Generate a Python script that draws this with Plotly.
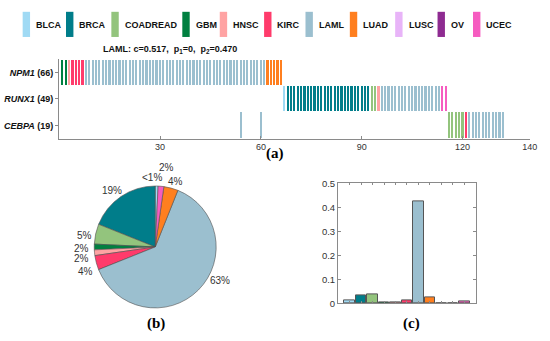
import math
import plotly.graph_objects as go

# ---------------- data ----------------
cancer_types = ["BLCA", "BRCA", "COADREAD", "GBM", "HNSC", "KIRC", "LAML", "LUAD", "LUSC", "OV", "UCEC"]
type_colors = ["#A0DAF4", "#007D8A", "#93C47D", "#008040", "#FFA3A3", "#FF3B6B",
               "#9BBFCF", "#FF7F1F", "#E8B4F8", "#8E2B91", "#F65CC0"]

genes = ["NPM1", "RUNX1", "CEBPA"]
gene_counts = [66, 49, 19]

# per-gene mutated samples: (first sample index, cancer type, number of consecutive samples)
npm1_runs = [(1, "GBM", 2), (3, "HNSC", 1), (4, "KIRC", 4), (8, "LAML", 54), (62, "LUAD", 5)]
runx1_runs = [(67, "BLCA", 1), (68, "BRCA", 25), (93, "COADREAD", 2), (95, "HNSC", 1),
              (96, "LAML", 18), (114, "UCEC", 2)]
cebpa_runs = [(54, "LAML", 1), (60, "LAML", 1), (116, "COADREAD", 5), (121, "KIRC", 1),
              (122, "LAML", 11)]

x_ticks = [30, 60, 90, 120, 140]

# pie: number of mutated samples per cancer type
pie_counts = [1, 25, 7, 2, 2, 5, 83, 5, 0, 0, 2]
pie_text = ["<1%", "19%", "5%", "2%", "2%", "4%", "63%", "4%", "", "", "2%"]

# bar chart (c): fraction per cancer type
frac_values = [0.012, 0.032, 0.036, 0.006, 0.006, 0.012, 0.426, 0.027, 0.0, 0.0, 0.008]

title_text = "<b>LAML: c=0.517,  p<sub>1</sub>=0,  p<sub>2</sub>=0.470</b>"

# ---------------- layout helpers ----------------
W, H = 550, 341
FONT = "Arial, Liberation Sans, sans-serif"
SERIF = "Times New Roman, Liberation Serif, serif"
AXC = "#8a8a8a"


def px(x):
    return x / W


def py(y):
    return 1 - y / H


color_of = dict(zip(cancer_types, type_colors))
fig = go.Figure()

# ---------- (a) oncoprint ----------
row_of = {"NPM1": 3, "RUNX1": 2, "CEBPA": 1}
all_runs = {"NPM1": npm1_runs, "RUNX1": runx1_runs, "CEBPA": cebpa_runs}
for ct in cancer_types:
    xs, bases = [], []
    for g in genes:
        for start, t, n in all_runs[g]:
            if t == ct:
                for k in range(n):
                    xs.append(start + k)
                    bases.append(row_of[g] - 0.48)
    if xs:
        fig.add_trace(go.Bar(x=xs, y=[0.96] * len(xs), base=bases, width=0.64,
                             marker=dict(color=color_of[ct], line=dict(width=0)),
                             xaxis="x", yaxis="y", showlegend=False, hoverinfo="skip"))

# ---------- (b) pie ----------
pie_idx = [i for i, v in enumerate(pie_counts) if v > 0]
fig.add_trace(go.Pie(values=[pie_counts[i] for i in pie_idx],
                     labels=[cancer_types[i] for i in pie_idx],
                     marker=dict(colors=[type_colors[i] for i in pie_idx],
                                 line=dict(color="#505050", width=0.6)),
                     sort=False, direction="counterclockwise", rotation=0,
                     textinfo="none", showlegend=False, hoverinfo="skip",
                     domain=dict(x=[px(94.5), px(220.5)], y=[py(312), py(186)])))

# pie labels computed from slice mid-angles
cx, cy, R = 157.5, 249.0, 63.0
label_nudge = {"UCEC": (8, -10), "LAML": (12, -14), "LUAD": (5, 3), "KIRC": (-2, 3),
               "GBM": (-2, -2), "HNSC": (-3, 2), "BLCA": (-2, 1)}
total = sum(pie_counts)
cum = 0
annotations = []
for i, v in enumerate(pie_counts):
    if v <= 0:
        continue
    mid = (cum + v / 2) / total * 2 * math.pi
    cum += v
    lx = cx - 1.15 * R * math.sin(mid)
    ly = cy - 1.15 * R * math.cos(mid)
    dx, dy = label_nudge.get(cancer_types[i], (0, 0))
    annotations.append(dict(x=px(lx + dx), y=py(ly + dy), xref="paper", yref="paper",
                            xanchor="center", yanchor="middle",
                            text=pie_text[i], showarrow=False,
                            font=dict(family=FONT, size=10, color="#333333")))

# ---------- (c) bar chart ----------
fig.add_trace(go.Bar(x=list(range(1, len(cancer_types) + 1)), y=frac_values, width=0.92,
                     marker=dict(color=type_colors, line=dict(color="#555555", width=1)),
                     xaxis="x2", yaxis="y2", showlegend=False, hoverinfo="skip"))

# ---------- legend (manual) ----------
legend_rect_x = [23, 67, 113, 185, 223, 268, 310, 355, 401, 444, 480]
shapes = []
for ct, col, x0 in zip(cancer_types, type_colors, legend_rect_x):
    shapes.append(dict(type="rect", xref="paper", yref="paper",
                       x0=px(x0), x1=px(x0 + 7.5), y0=py(32), y1=py(6),
                       fillcolor=col, line=dict(width=0)))
    annotations.append(dict(x=px(x0 + 11.5), y=py(19.5), xref="paper", yref="paper",
                            xanchor="left", yanchor="middle", text="<b>%s</b>" % ct,
                            showarrow=False,
                            font=dict(family=FONT, size=9, color="#111111")))

# titles / panel labels
annotations.append(dict(x=px(173), y=py(45), xref="paper", yref="paper", text=title_text,
                        xanchor="center", yanchor="middle",
                        showarrow=False, font=dict(family=FONT, size=9, color="#111111")))
for lab, (lx, ly) in zip(["(a)", "(b)", "(c)"], [(279, 152), (158, 328), (418, 328)]):
    annotations.append(dict(x=px(lx), y=py(ly), xref="paper", yref="paper",
                            xanchor="center", yanchor="middle",
                            text="<b>%s</b>" % lab, showarrow=False,
                            font=dict(family=SERIF, size=15, color="#000000")))

gene_ticktext = ["<b><i>%s</i> (%d)</b>" % (g, c) for g, c in zip(genes, gene_counts)]

fig.update_layout(
    width=W, height=H, margin=dict(l=0, r=0, t=0, b=0),
    paper_bgcolor="white", plot_bgcolor="white", barmode="overlay", bargap=0,
    font=dict(family=FONT, color="#333333"),
    xaxis=dict(domain=[px(60), px(537.7)], range=[0, 140], tickvals=x_ticks,
               ticks="inside", ticklen=3, tickcolor=AXC, showline=True, linecolor=AXC,
               linewidth=1, showgrid=False, zeroline=False, anchor="y",
               tickfont=dict(family=FONT, size=9, color="#333333")),
    yaxis=dict(domain=[py(137), py(55)], range=[0.5, 3.5], tickvals=[3, 2, 1],
               ticktext=gene_ticktext, ticks="outside", ticklen=3, tickcolor=AXC,
               showline=True, linecolor=AXC, linewidth=1, showgrid=False, zeroline=False,
               anchor="x", tickfont=dict(family=FONT, size=9, color="#111111")),
    xaxis2=dict(domain=[px(343), px(483)], range=[0, 12], showticklabels=False,
                tickvals=list(range(1, 12)), ticks="inside", ticklen=2, tickcolor=AXC,
                showline=True, mirror="ticks", linecolor=AXC, linewidth=1,
                showgrid=False, zeroline=False, anchor="y2"),
    yaxis2=dict(domain=[py(307.3), py(183.3)], range=[0, 0.5], dtick=0.1,
                ticks="inside", ticklen=3, tickcolor=AXC, showline=True, mirror="ticks",
                linecolor=AXC, linewidth=1, showgrid=False, zeroline=False, anchor="x2",
                tickfont=dict(family=FONT, size=9.5, color="#333333")),
    shapes=shapes, annotations=annotations,
)

# pin the graph to the top-left corner of the page so it fills the 550x341 window exactly
page_fix = (
    "document.documentElement.style.cssText='margin:0;padding:0;overflow:hidden;';"
    "document.body.style.cssText='margin:0;padding:0;overflow:hidden;';"
    "var gd=document.getElementById('{plot_id}');"
    "gd.style.position='fixed';gd.style.left='0px';gd.style.top='0px';"
)
fig.write_html("out.html", config={"displayModeBar": False}, post_script=page_fix)
